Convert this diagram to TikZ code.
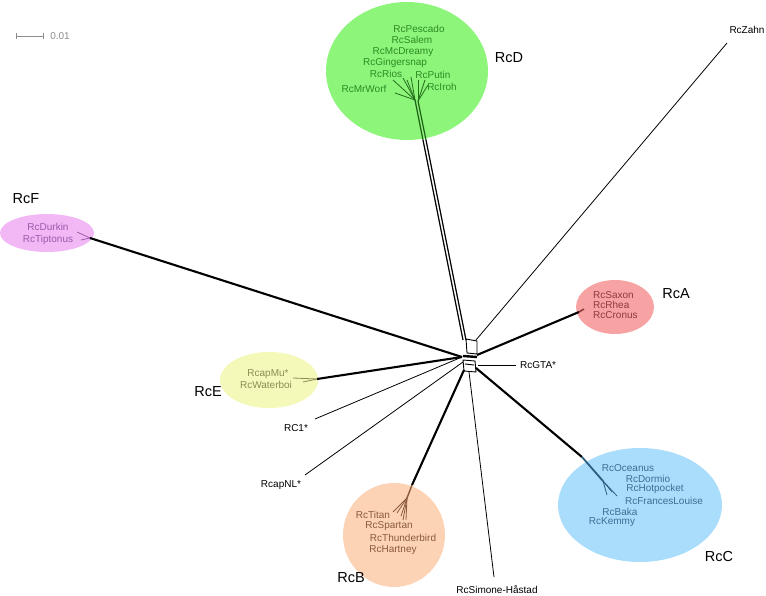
\documentclass[tikz,border=0pt]{standalone}
\usepackage{fontspec}
\setmainfont{Liberation Sans}
\usetikzlibrary{shapes.geometric}
\definecolor{dFill}{HTML}{8CF57A}
\definecolor{dTxt}{HTML}{2E8B22}
\definecolor{fFill}{HTML}{F2B8F5}
\definecolor{fTxt}{HTML}{9A5AAA}
\definecolor{aFill}{HTML}{F7A3A3}
\definecolor{aTxt}{HTML}{8E3B3B}
\definecolor{eFill}{HTML}{F4F8B8}
\definecolor{eTxt}{HTML}{8C8C55}
\definecolor{bFill}{HTML}{FDD3B5}
\definecolor{bTxt}{HTML}{8A5A3A}
\definecolor{cFill}{HTML}{A9DDFB}
\definecolor{cTxt}{HTML}{3D6E96}
\definecolor{cLine}{HTML}{2A5F80}
\definecolor{scaleGray}{HTML}{8C8C8C}
\begin{document}
\begin{tikzpicture}[x=1pt,y=-1pt,
  blob/.style={ellipse, draw=none, inner sep=0pt},
  leaf/.style={font=\fontsize{10}{12}\selectfont, inner sep=0pt},
  clab/.style={font=\fontsize{14.5}{17}\selectfont, inner sep=0pt},
  thinedge/.style={line width=0.8pt, black},
  thickedge/.style={line width=2.1pt, black},
  fine/.style={line width=0.8pt},
  boxedge/.style={line width=0.9pt, black}]
\useasboundingbox (0,0) rectangle (766,596);

% cluster ellipses
\node[blob, fill=dFill, minimum width=162pt, minimum height=138pt] (ellD) at (407,71) {};
\node[blob, fill=fFill, minimum width=94pt, minimum height=38pt] (ellF) at (47,233) {};
\node[blob, fill=aFill, minimum width=78pt, minimum height=54pt] (ellA) at (615,307) {};
\node[blob, fill=eFill, minimum width=98pt, minimum height=56pt] (ellE) at (269,380) {};
\node[blob, fill=bFill, minimum width=102pt, minimum height=104pt] (ellB) at (394,535) {};
\node[blob, fill=cFill, minimum width=164pt, minimum height=114pt] (ellC) at (640,505) {};

% centre coordinates
\coordinate (hD1) at (463,340);
\coordinate (hD2) at (466,340);
\coordinate (hZ) at (476,340);
\coordinate (hL) at (462,357);
\coordinate (hA) at (477,355);
\coordinate (hG) at (478,365);
\coordinate (hB) at (464,370);
\coordinate (hS) at (469,372);
\coordinate (hC) at (476,368);

% centre boxes
\draw[boxedge] (466,339) -- (477,341) -- (477,354) -- (467,353) -- cycle;
\draw[line width=2.4pt] (463,356) -- (477,357);
\draw[boxedge] (463,360) -- (475,361) -- (476,372) -- (464,371) -- cycle;
\draw[boxedge] (465,364) -- (474,365);

% RcD stem and tuft
\coordinate (dHub) at (415,100);
\coordinate (dHub2) at (418,101);
\coordinate (dEdge1) at (423,140);
\coordinate (dEdge2) at (426,140);
\draw[thinedge, line width=1.2pt] (hD1) -- (dEdge1);
\draw[thinedge, line width=1.2pt] (hD2) -- (dEdge2);
\draw[dTxt!70!black, line width=1.2pt] (dEdge1) -- (dHub);
\draw[dTxt!70!black, line width=1.2pt] (dEdge2) -- (dHub2);
\coordinate (d1) at (395,93);
\coordinate (d2) at (393,80);
\coordinate (d3) at (403,78);
\coordinate (d4) at (407,80);
\coordinate (d5) at (411,77);
\coordinate (d6) at (418,80);
\coordinate (d7) at (425,80);
\coordinate (d8) at (428,85);
\foreach \e in {d1,d2,d3,d4,d5} \draw[fine, dTxt!80!black] (dHub) -- (\e);
\foreach \e in {d6,d7,d8} \draw[fine, dTxt!80!black] (dHub2) -- (\e);

% RcZahn
\coordinate (zEnd) at (727,43);
\draw[thinedge] (hZ) -- (zEnd);

% RcF
\coordinate (fEnd) at (90,238);
\coordinate (f1) at (77,232);
\coordinate (f2) at (81,240);
\draw[thickedge] (hL) -- (fEnd);
\draw[fine, fTxt] (fEnd) -- (f1);
\draw[fine, fTxt] (fEnd) -- (f2);

% RcA
\coordinate (aEnd) at (579,312);
\coordinate (a1) at (584,309);
\draw[thickedge] (hA) -- (aEnd);
\draw[line width=1.6pt, aTxt] (aEnd) -- (a1);

% RcE
\coordinate (eEnd) at (317,379);
\coordinate (e1) at (293,378);
\coordinate (e2) at (303,382);
\draw[thickedge] (hL) -- (eEnd);
\draw[fine, eTxt] (eEnd) -- (e1);
\draw[fine, eTxt] (eEnd) -- (e2);

% RC1*, RcapNL*
\coordinate (r1End) at (315,419);
\coordinate (nlEnd) at (305,475);
\draw[thinedge] (hL) -- (r1End);
\draw[thinedge] (463,362) -- (nlEnd);

% RcGTA*
\coordinate (gEnd) at (516,365);
\draw[thinedge] (hG) -- (gEnd);

% RcSimone
\coordinate (sEnd) at (494,577);
\draw[thinedge] (hS) -- (sEnd);

% RcB
\coordinate (bEdge) at (412,485);
\coordinate (bHub) at (407,498);
\coordinate (b1) at (393,512);
\coordinate (b2) at (397,513);
\coordinate (b3) at (401,516);
\coordinate (b4) at (403,520);
\coordinate (b5) at (406,520);
\draw[thickedge] (hB) -- (bEdge);
\draw[line width=1.4pt, bTxt] (bEdge) -- (bHub);
\foreach \e in {b1,b2,b3,b4,b5} \draw[fine, bTxt] (bHub) -- (\e);

% RcC
\coordinate (cEdge) at (582,457);
\coordinate (cHub) at (603,481);
\coordinate (c1) at (607,495);
\coordinate (c2) at (612,492);
\coordinate (c3) at (617,496);
\draw[thickedge] (hC) -- (cEdge);
\draw[line width=1.8pt, cLine] (cEdge) -- (cHub);
\foreach \e in {c1,c2,c3} \draw[fine, cLine] (cHub) -- (\e);

% scale bar
\coordinate (sb1) at (16,36);
\coordinate (sb2) at (43,36);
\draw[scaleGray, line width=0.7pt] (sb1) -- (sb2);
\draw[scaleGray, line width=0.7pt] (16,33) -- (16,39);
\draw[scaleGray, line width=0.7pt] (43,33) -- (43,39);
\node[leaf, text=scaleGray] (scaleLab) at (60,36) {0.01};

% RcD labels
\node[leaf, text=dTxt] (Pescado) at (419,29) {RcPescado};
\node[leaf, text=dTxt] (Salem) at (412,40) {RcSalem};
\node[leaf, text=dTxt] (McDreamy) at (403,52) {RcMcDreamy};
\node[leaf, text=dTxt] (Gingersnap) at (395,63) {RcGingersnap};
\node[leaf, text=dTxt] (Rios) at (386,74) {RcRios};
\node[leaf, text=dTxt] (Putin) at (433,75) {RcPutin};
\node[leaf, text=dTxt] (MrWorf) at (364,89) {RcMrWorf};
\node[leaf, text=dTxt] (Iroh) at (442,87) {RcIroh};
\node[clab] (labD) at (509,58) {RcD};

% RcF labels
\node[leaf, text=fTxt] (Durkin) at (48,227) {RcDurkin};
\node[leaf, text=fTxt] (Tiptonus) at (48,240) {RcTiptonus};
\node[clab] (labF) at (26,199) {RcF};

% RcA labels
\node[leaf, text=aTxt, anchor=west] (Saxon) at (593,295) {RcSaxon};
\node[leaf, text=aTxt, anchor=west] (Rhea) at (593,305) {RcRhea};
\node[leaf, text=aTxt, anchor=west] (Cronus) at (593,315) {RcCronus};
\node[clab] (labA) at (676,294) {RcA};

% RcE labels
\node[leaf, text=eTxt] (capMu) at (268,374) {RcapMu*};
\node[leaf, text=eTxt] (Waterboi) at (266,385) {RcWaterboi};
\node[clab] (labE) at (208,392) {RcE};

% free leaves
\node[leaf] (RC1) at (296,428) {RC1*};
\node[leaf] (capNL) at (281,485) {RcapNL*};
\node[leaf, anchor=west] (GTA) at (520,365) {RcGTA*};
\node[leaf] (Simone) at (497,590) {RcSimone-Håstad};
\node[leaf] (Zahn) at (747,30) {RcZahn};

% RcB labels
\node[leaf, text=bTxt] (Titan) at (373,515) {RcTitan};
\node[leaf, text=bTxt] (Spartan) at (389,526) {RcSpartan};
\node[leaf, text=bTxt] (Thunderbird) at (403,538) {RcThunderbird};
\node[leaf, text=bTxt] (Hartney) at (393,550) {RcHartney};
\node[clab] (labB) at (351,578) {RcB};

% RcC labels
\node[leaf, text=cTxt] (Oceanus) at (628,468) {RcOceanus};
\node[leaf, text=cTxt] (Dormio) at (648,479) {RcDormio};
\node[leaf, text=cTxt] (Hotpocket) at (655,489) {RcHotpocket};
\node[leaf, text=cTxt] (Frances) at (664,501) {RcFrancesLouise};
\node[leaf, text=cTxt] (Baka) at (620,512) {RcBaka};
\node[leaf, text=cTxt] (Kemmy) at (612,522) {RcKemmy};
\node[clab] (labC) at (719,557) {RcC};
\end{tikzpicture}
\end{document}
